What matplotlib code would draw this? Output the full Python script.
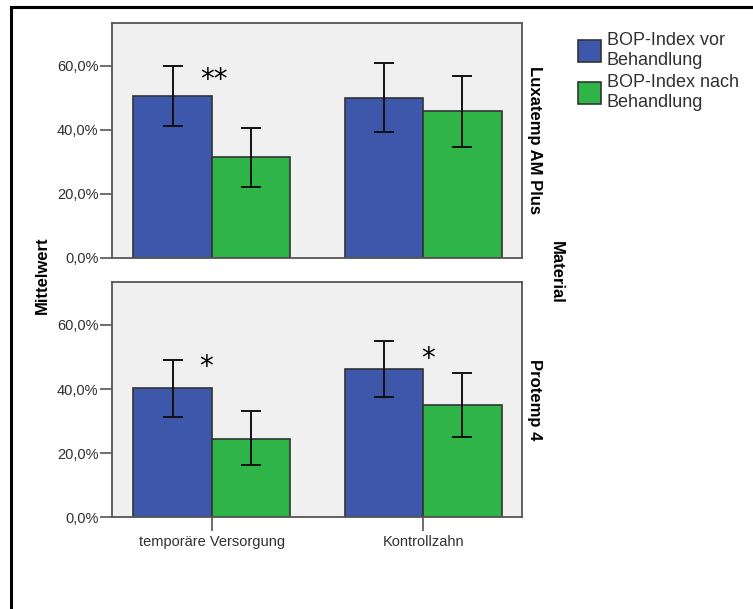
import numpy as np
import matplotlib
matplotlib.use("Agg")
import matplotlib.pyplot as plt
from matplotlib.lines import Line2D
from matplotlib.patches import Patch

plt.rcParams['font.family'] = ['Liberation Sans', 'DejaVu Sans']

# data
categories = ['temporäre Versorgung', 'Kontrollzahn']
materials = ['Luxatemp AM Plus', 'Protemp 4']
series = ['BOP-Index vor\nBehandlung', 'BOP-Index nach\nBehandlung']

# mean values per material, per series, per category
vor_mean = {'Luxatemp AM Plus': [50.6, 50.1], 'Protemp 4': [40.2, 46.3]}
nach_mean = {'Luxatemp AM Plus': [31.5, 45.8], 'Protemp 4': [24.5, 35.1]}
# error bar lower / upper ends
vor_low = {'Luxatemp AM Plus': [41.3, 39.2], 'Protemp 4': [31.3, 37.6]}
vor_high = {'Luxatemp AM Plus': [60.1, 61.0], 'Protemp 4': [49.1, 55.0]}
nach_low = {'Luxatemp AM Plus': [22.1, 34.6], 'Protemp 4': [16.3, 25.1]}
nach_high = {'Luxatemp AM Plus': [40.7, 56.7], 'Protemp 4': [33.0, 45.1]}

# significance marks: (category index, x shift, height, label)
stars = {'Luxatemp AM Plus': [(0, 0.01, 55.5, '**')],
         'Protemp 4': [(0, -0.027, 47.0, '*'), (1, 0.022, 49.5, '*')]}

col_vor = '#3d57aa'
col_nach = '#2fb547'
edge = '#333333'
txt = '#303030'

fig = plt.figure(figsize=(7.53, 6.09), dpi=100)

W = 0.37
x = np.arange(len(categories))
axes_pos = [[0.1491, 0.5764, 0.5445, 0.3859], [0.1491, 0.1506, 0.5445, 0.3864]]

for i, mat in enumerate(materials):
    ax = fig.add_axes(axes_pos[i])
    ax.set_facecolor('#f0f0f0')
    vm = np.array(vor_mean[mat]); nm = np.array(nach_mean[mat])
    ax.bar(x - W / 2, vm, W, color=col_vor, edgecolor=edge, linewidth=1.2, zorder=2)
    ax.bar(x + W / 2, nm, W, color=col_nach, edgecolor=edge, linewidth=1.2, zorder=2)
    ve = [vm - np.array(vor_low[mat]), np.array(vor_high[mat]) - vm]
    ne = [nm - np.array(nach_low[mat]), np.array(nach_high[mat]) - nm]
    ax.errorbar(x - W / 2, vm, yerr=ve, fmt='none', ecolor='#111111',
                elinewidth=1.4, capsize=7.5, capthick=1.4, zorder=3)
    ax.errorbar(x + W / 2, nm, yerr=ne, fmt='none', ecolor='#111111',
                elinewidth=1.4, capsize=7.5, capthick=1.4, zorder=3)
    for ci, dx, sy, s in stars[mat]:
        ax.text(x[ci] + dx, sy, s, ha='center', va='center',
                fontsize=20, color='black', family='DejaVu Sans')
    ax.set_xlim(-0.47, 1.468)
    ax.set_ylim(0, 73.4)
    ax.set_yticks([0, 20, 40, 60])
    ax.set_yticklabels(['0,0%', '20,0%', '40,0%', '60,0%'])
    ax.tick_params(axis='y', length=9, width=1.2, color='#555555', labelsize=10.5,
                   labelcolor=txt, pad=1)
    if i == len(materials) - 1:
        ax.set_xticks(x)
        ax.set_xticklabels(categories)
        ax.tick_params(axis='x', length=10, width=1.2, color='#555555', labelsize=10.5,
                       labelcolor=txt, pad=3)
    else:
        ax.set_xticks([])
    for sp in ax.spines.values():
        sp.set_color('#555555')
        sp.set_linewidth(1.3)
    ax.text(1.012, 0.5, mat, transform=ax.transAxes, rotation=-90, ha='left',
            va='center', fontsize=12, fontweight='bold', color='black')

fig.text(42 / 753, 1 - 275 / 609, 'Mittelwert', rotation=90, ha='center', va='center',
         fontsize=12, fontweight='bold', color='black')
fig.text(556 / 753, 1 - 272 / 609, 'Material', rotation=-90, ha='center', va='center',
         fontsize=12, fontweight='bold', color='black')

handles = [Patch(facecolor=col_vor, edgecolor=edge, linewidth=1.2),
           Patch(facecolor=col_nach, edgecolor=edge, linewidth=1.2)]
fig.legend(handles, series, loc='upper left', bbox_to_anchor=(578 / 753, 1 - 32 / 609),
           frameon=False, fontsize=13, handlelength=1.3, handleheight=1.45,
           handletextpad=0.3, labelspacing=0.3, borderpad=0, borderaxespad=0,
           labelcolor=txt)

# outer frame (only top and left edges are visible)
fig.add_artist(Line2D([11 / 753, 11 / 753], [0, 1 - 7 / 609], transform=fig.transFigure,
                      color='black', linewidth=2.2))
fig.add_artist(Line2D([11 / 753, 1], [1 - 7 / 609, 1 - 7 / 609], transform=fig.transFigure,
                      color='black', linewidth=2.2))

fig.savefig('out.png', dpi=100)
